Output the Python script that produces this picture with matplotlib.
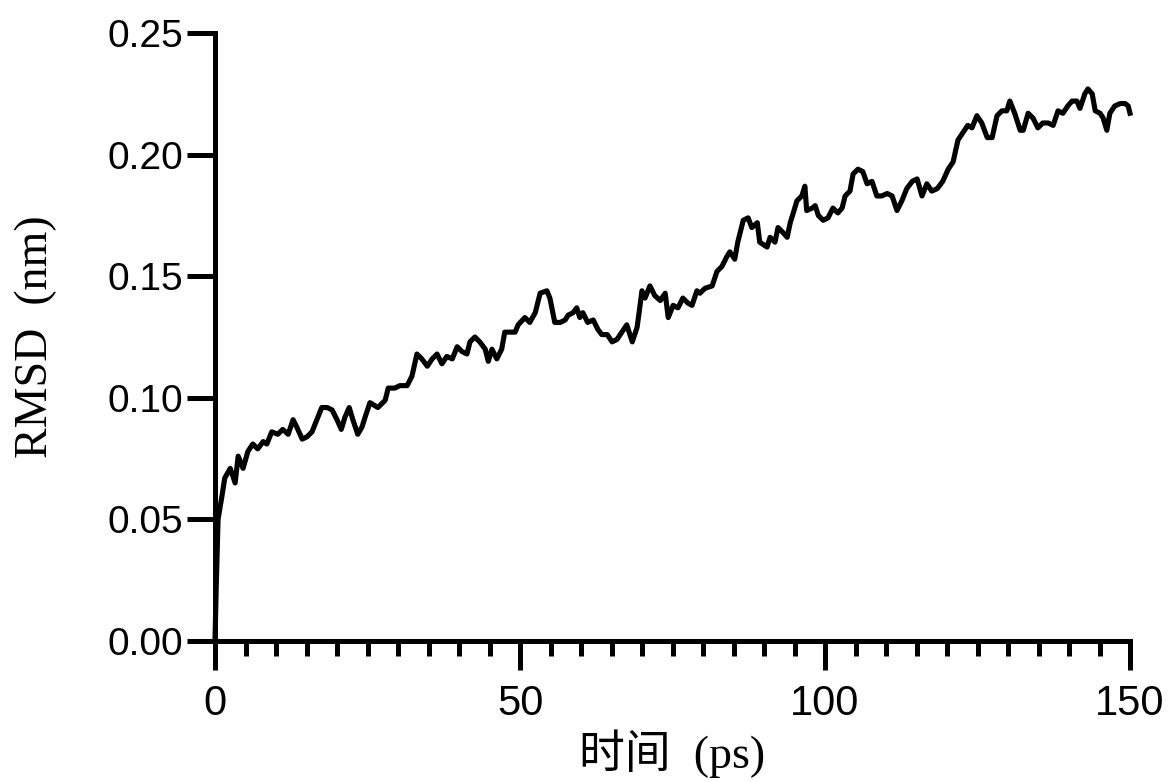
"""RMSD vs time trace, single black line, Prism-style axes."""

import matplotlib

matplotlib.use("Agg")
import matplotlib.pyplot as plt
from matplotlib import font_manager
from matplotlib.ticker import MultipleLocator

# time (ps) and RMSD (nm)
time_ps = [
    0.0, 0.2, 0.4, 0.5, 1.1, 1.6, 2.5, 3.3, 3.8, 4.6, 5.4, 6.2, 7.0, 7.9, 8.5,
    9.3, 10.3, 11.1, 12.0, 12.8, 13.4, 14.3, 15.1, 15.9, 16.7, 17.5, 18.4, 19.2,
    20.0, 20.7, 21.3, 22.0, 22.6, 23.4, 24.1, 24.6, 25.4, 26.7, 27.9, 28.4,
    29.5, 30.3, 31.5, 32.3, 33.1, 33.9, 34.8, 35.6, 36.4, 37.2, 38.0, 38.9,
    39.7, 40.5, 41.3, 41.8, 42.6, 43.4, 44.3, 44.8, 45.4, 46.2, 47.0, 47.5,
    48.4, 49.2, 49.7, 50.8, 51.6, 52.5, 53.3, 54.4, 54.9, 55.7, 56.6, 57.4,
    57.9, 58.7, 59.3, 59.8, 60.3, 61.1, 62.0, 62.8, 63.4, 64.3, 65.1, 65.9,
    66.7, 67.5, 68.4, 69.2, 70.0, 70.5, 71.3, 72.1, 73.0, 73.8, 74.3, 75.1,
    75.9, 76.7, 77.5, 78.2, 79.0, 79.5, 80.3, 81.5, 82.3, 83.1, 83.9, 84.4,
    85.2, 85.7, 86.6, 87.4, 88.0, 88.9, 89.3, 90.5, 91.0, 91.8, 92.3, 93.1,
    93.8, 94.3, 94.8, 95.4, 96.2, 96.7, 97.0, 97.9, 98.4, 98.9, 99.7, 100.5,
    101.3, 102.1, 102.8, 103.3, 104.1, 104.6, 105.4, 106.2, 106.9, 107.7,
    108.5, 109.3, 110.2, 111.0, 111.8, 112.6, 113.4, 114.3, 115.1, 115.9,
    116.7, 117.5, 118.4, 119.3, 120.2, 121.0, 121.8, 122.6, 123.4, 124.1,
    124.9, 125.7, 126.6, 127.4, 128.2, 129.0, 129.8, 130.3, 131.1, 132.0,
    132.5, 133.3, 134.1, 134.9, 135.7, 136.6, 137.4, 138.2, 139.0, 139.8,
    140.5, 141.3, 141.8, 142.6, 143.1, 143.8, 144.3, 145.1, 145.6, 146.2,
    146.7, 147.5, 148.4, 149.2, 149.7, 150.0,
]
rmsd_nm = [
    0.000, 0.022, 0.040, 0.050, 0.059, 0.067, 0.071, 0.065, 0.076, 0.071,
    0.078, 0.081, 0.079, 0.082, 0.081, 0.086, 0.085, 0.087, 0.085, 0.091,
    0.088, 0.083, 0.084, 0.086, 0.091, 0.096, 0.096, 0.095, 0.091, 0.087,
    0.092, 0.096, 0.091, 0.085, 0.088, 0.092, 0.098, 0.096, 0.099, 0.104,
    0.104, 0.105, 0.105, 0.109, 0.118, 0.116, 0.113, 0.116, 0.118, 0.114,
    0.117, 0.116, 0.121, 0.119, 0.118, 0.123, 0.125, 0.123, 0.120, 0.115,
    0.120, 0.116, 0.120, 0.127, 0.127, 0.127, 0.130, 0.133, 0.131, 0.135,
    0.143, 0.144, 0.141, 0.131, 0.131, 0.132, 0.134, 0.135, 0.137, 0.133,
    0.135, 0.131, 0.132, 0.128, 0.126, 0.126, 0.123, 0.124, 0.127, 0.130,
    0.123, 0.129, 0.144, 0.141, 0.146, 0.142, 0.140, 0.143, 0.133, 0.138,
    0.137, 0.141, 0.139, 0.138, 0.144, 0.143, 0.145, 0.146, 0.152, 0.154,
    0.158, 0.160, 0.157, 0.164, 0.173, 0.174, 0.170, 0.172, 0.164, 0.162,
    0.166, 0.164, 0.170, 0.168, 0.166, 0.172, 0.176, 0.181, 0.183, 0.187,
    0.177, 0.178, 0.179, 0.175, 0.173, 0.174, 0.178, 0.176, 0.178, 0.183,
    0.185, 0.192, 0.194, 0.193, 0.188, 0.189, 0.183, 0.183, 0.184, 0.183,
    0.177, 0.181, 0.186, 0.189, 0.190, 0.183, 0.188, 0.185, 0.186, 0.189,
    0.194, 0.197, 0.206, 0.209, 0.212, 0.211, 0.216, 0.213, 0.207, 0.207,
    0.216, 0.218, 0.218, 0.222, 0.217, 0.210, 0.210, 0.217, 0.215, 0.211,
    0.213, 0.213, 0.212, 0.218, 0.217, 0.220, 0.222, 0.222, 0.219, 0.225,
    0.227, 0.225, 0.218, 0.217, 0.215, 0.210, 0.217, 0.220, 0.221, 0.221,
    0.220, 0.217,
]

x_ticks = [0, 50, 100, 150]
y_ticks = [0.00, 0.05, 0.10, 0.15, 0.20, 0.25]
y_tick_labels = ["0.00", "0.05", "0.10", "0.15", "0.20", "0.25"]
x_label = "时间  (ps)"
y_label = "RMSD  (nm)"

installed = {f.name for f in font_manager.fontManager.ttflist}
narrow = "Liberation Sans Narrow" if "Liberation Sans Narrow" in installed else "Liberation Sans"

fig = plt.figure(figsize=(11.74, 7.82), dpi=100)
ax = fig.add_axes([215 / 1174, 1 - 641 / 782, 915 / 1174, 608 / 782])

ax.plot(time_ps, rmsd_nm, color="black", lw=3.7, solid_joinstyle="round", clip_on=False)

ax.set_xlim(0, 150)
ax.set_ylim(0, 0.25)
for side in ("top", "right"):
    ax.spines[side].set_visible(False)
for side in ("left", "bottom"):
    ax.spines[side].set_linewidth(3.6)
    ax.spines[side].set_capstyle("projecting")

ax.set_xticks(x_ticks)
ax.xaxis.set_minor_locator(MultipleLocator(5))
ax.set_yticks(y_ticks)
ax.set_yticklabels(y_tick_labels)
ax.tick_params(axis="y", direction="out", length=20, width=3.6, pad=3,
               labelsize=28, labelfontfamily="Liberation Sans")
ax.tick_params(axis="x", which="major", direction="out", length=21, width=3.6,
               pad=10, labelsize=30, labelfontfamily=narrow)
ax.tick_params(axis="x", which="minor", direction="out", length=11, width=3.6)

ax.set_xlabel(x_label, fontsize=33, family=["Liberation Serif", "Noto Sans CJK SC"],
              labelpad=4)
ax.set_ylabel(y_label, fontsize=33, family=["Liberation Serif"], labelpad=36)

fig.savefig("out.png", dpi=100)
